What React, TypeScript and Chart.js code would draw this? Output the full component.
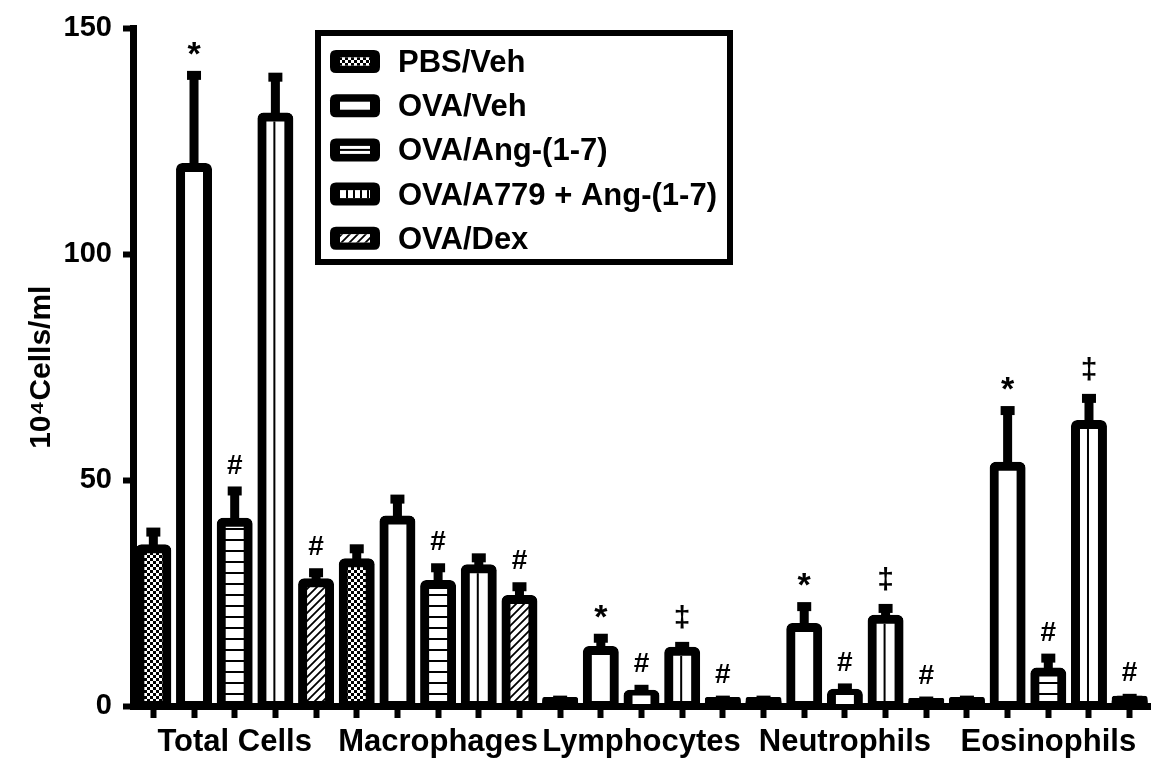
import React, { useEffect, useRef } from 'react';
import { Chart, registerables } from 'chart.js';

Chart.register(...registerables);

// ---------- data ----------
const groups = ['Total Cells', 'Macrophages', 'Lymphocytes', 'Neutrophils', 'Eosinophils'];
const seriesNames = ['PBS/Veh', 'OVA/Veh', 'OVA/Ang-(1-7)', 'OVA/A779 + Ang-(1-7)', 'OVA/Dex'];

const pbsVeh = [34.8, 31.7, 1.0, 1.0, 1.0];
const ovaVeh = [119.2, 41.2, 12.3, 17.4, 53.1];
const ovaAng = [40.7, 26.9, 2.6, 2.8, 7.5];
const ovaA779 = [130.4, 30.4, 12.1, 19.2, 62.3];
const ovaDex = [27.3, 23.6, 1.0, 0.8, 1.3];

const pbsVehErr = [3.7, 3.1, 0.3, 0.3, 0.3];
const ovaVehErr = [20.4, 4.6, 2.7, 4.6, 12.3];
const ovaAngErr = [6.9, 3.7, 1.1, 1.2, 3.1];
const ovaA779Err = [8.8, 2.4, 1.1, 2.4, 5.8];
const ovaDexErr = [2.2, 2.8, 0.3, 0.3, 0.4];

const pbsVehMark = ['', '', '', '', ''];
const ovaVehMark = ['*', '', '*', '*', '*'];
const ovaAngMark = ['#', '#', '#', '#', '#'];
const ovaA779Mark = ['', '', '‡', '‡', '‡'];
const ovaDexMark = ['#', '#', '#', '#', '#'];

const yTicks = [0, 50, 100, 150];
const yTitle = '10⁴Cells/ml';

const seriesValues = [pbsVeh, ovaVeh, ovaAng, ovaA779, ovaDex];
const seriesErrors = [pbsVehErr, ovaVehErr, ovaAngErr, ovaA779Err, ovaDexErr];
const seriesMarks = [pbsVehMark, ovaVehMark, ovaAngMark, ovaA779Mark, ovaDexMark];

const FONT = "'Liberation Sans', Arial, Helvetica, sans-serif";
const BORDER = 9;

// ---------- patterns ----------
function patternCanvas(w: number, h: number, draw: (c: CanvasRenderingContext2D) => void) {
  const cv = document.createElement('canvas');
  cv.width = w;
  cv.height = h;
  const c = cv.getContext('2d')!;
  c.fillStyle = '#fff';
  c.fillRect(0, 0, w, h);
  c.fillStyle = '#000';
  c.strokeStyle = '#000';
  draw(c);
  return cv;
}

function buildPatterns(ctx: CanvasRenderingContext2D) {
  const checker = patternCanvas(6, 6, (c) => {
    c.fillRect(0, 0, 3, 3);
    c.fillRect(3, 3, 3, 3);
  });
  const hlines = patternCanvas(4, 11, (c) => {
    c.fillRect(0, 0, 4, 2);
  });
  const diag = patternCanvas(8, 8, (c) => {
    c.lineWidth = 1.8;
    c.beginPath();
    c.moveTo(-1, 9);
    c.lineTo(9, -1);
    c.moveTo(-1, 1);
    c.lineTo(1, -1);
    c.moveTo(7, 9);
    c.lineTo(9, 7);
    c.stroke();
  });
  return [
    ctx.createPattern(checker, 'repeat'),
    '#ffffff',
    ctx.createPattern(hlines, 'repeat'),
    '#ffffff',
    ctx.createPattern(diag, 'repeat'),
  ];
}

function roundRectPath(c: CanvasRenderingContext2D, x: number, y: number, w: number, h: number, r: number) {
  c.beginPath();
  c.moveTo(x + r, y);
  c.lineTo(x + w - r, y);
  c.quadraticCurveTo(x + w, y, x + w, y + r);
  c.lineTo(x + w, y + h - r);
  c.quadraticCurveTo(x + w, y + h, x + w - r, y + h);
  c.lineTo(x + r, y + h);
  c.quadraticCurveTo(x, y + h, x, y + h - r);
  c.lineTo(x, y + r);
  c.quadraticCurveTo(x, y, x + r, y);
  c.closePath();
}

export default function App() {
  const ref = useRef<HTMLCanvasElement>(null);

  useEffect(() => {
    const canvas = ref.current!;
    const ctx = canvas.getContext('2d')!;
    const patterns = buildPatterns(ctx);

    const barLabels: string[] = [];
    const barValues: number[] = [];
    groups.forEach((g, gi) => {
      seriesNames.forEach((s, si) => {
        barLabels.push(g + ' - ' + s);
        barValues.push(seriesValues[si][gi]);
      });
    });

    const errorPlugin = {
      id: 'errorBars',
      afterDatasetsDraw(chart: any) {
        const meta = chart.getDatasetMeta(0);
        const yScale = chart.scales.y;
        const c = chart.ctx as CanvasRenderingContext2D;
        c.save();
        meta.data.forEach((el: any, i: number) => {
          const gi = Math.floor(i / 5);
          const si = i % 5;
          const v = seriesValues[si][gi];
          const e = seriesErrors[si][gi];
          const x = el.x;
          const top = el.y;
          const base = el.base;
          const w = el.width;
          c.fillStyle = '#000';
          // very short bars: the thick outline fills them completely
          if (base - top < BORDER) {
            roundRectPath(c, x - w / 2 - BORDER / 2, top - BORDER / 2, w + BORDER, base - top + BORDER, 6);
            c.fill();
          }
          // single vertical line inside A779 bars
          if (si === 3) {
            const y0 = top + BORDER / 2;
            const y1 = base - BORDER / 2;
            if (y1 > y0) c.fillRect(x - 2, y0, 2, y1 - y0);
          }
          const end = yScale.getPixelForValue(v + e);
          c.fillRect(x - 4.5, end, 9, top - end);
          c.fillRect(x - 7, end - 4.5, 14, 9);
          const mark = seriesMarks[si][gi];
          if (mark) {
            const size = mark === '*' ? 34 : mark === '#' ? 28 : 30;
            const off = mark === '*' ? 20 : mark === '#' ? 25 : 28;
            c.font = 'bold ' + size + 'px ' + FONT;
            c.textAlign = 'center';
            c.textBaseline = 'middle';
            c.fillText(mark, x, end - off);
          }
        });
        c.restore();
      },
    };

    const legendPlugin = {
      id: 'boxLegend',
      afterDraw(chart: any) {
        const c = chart.ctx as CanvasRenderingContext2D;
        c.save();
        c.lineWidth = 6;
        c.strokeStyle = '#000';
        c.strokeRect(318, 33, 412, 229);
        seriesNames.forEach((name, i) => {
          const cy = 61.5 + i * 44.2;
          c.fillStyle = '#000';
          roundRectPath(c, 330, cy - 11.5, 50, 23, 6);
          c.fill();
          const ix = 340, iy = cy - 4, iw = 30, ih = 8;
          c.fillStyle = '#fff';
          c.fillRect(ix, iy, iw, ih);
          c.fillStyle = '#000';
          if (i === 0 || i === 4) {
            c.fillStyle = patterns[i] as any;
            c.fillRect(ix, iy, iw, ih);
          } else if (i === 2) {
            c.fillRect(ix, cy - 1, iw, 2);
          } else if (i === 3) {
            for (let k = 1; k < 5; k++) c.fillRect(ix + k * 7 - 1, iy, 2, ih);
          }
          c.fillStyle = '#000';
          c.font = 'bold 31px ' + FONT;
          c.textAlign = 'left';
          c.textBaseline = 'middle';
          c.fillText(name, 398, cy + 2);
        });
        c.restore();
      },
    };

    const chart = new Chart(canvas, {
      type: 'bar',
      data: {
        labels: barLabels,
        datasets: [
          {
            data: barValues,
            backgroundColor: (c: any) => patterns[c.dataIndex % 5] as any,
            borderColor: '#000',
            borderWidth: BORDER,
            borderSkipped: false,
            borderRadius: { topLeft: 6, topRight: 6, bottomLeft: 0, bottomRight: 0 },
            inflateAmount: BORDER / 2,
            barPercentage: 0.663,
            categoryPercentage: 1,
          } as any,
        ],
      },
      options: {
        responsive: false,
        animation: false,
        events: [],
        layout: { padding: { left: 0, right: 15, top: 25, bottom: 0 } },
        plugins: {
          legend: { display: false },
          tooltip: { enabled: false },
        },
        scales: {
          y: {
            min: 0,
            max: 150,
            afterBuildTicks: (s: any) => {
              s.ticks = yTicks.map((v) => ({ value: v }));
            },
            afterFit: (s: any) => {
              s.width = 133;
            },
            ticks: {
              color: '#000',
              font: { family: FONT, size: 29, weight: 'bold' },
              padding: 11,
            },
            grid: {
              display: true,
              drawOnChartArea: false,
              drawTicks: true,
              tickLength: 10,
              tickWidth: 6,
              tickColor: '#000',
            },
            border: { display: true, width: 7, color: '#000' },
            title: {
              display: true,
              text: yTitle,
              color: '#000',
              font: { family: FONT, size: 30, weight: 'bold' },
              padding: { top: 24, bottom: 0 },
            },
          },
          x: {
            type: 'category',
            position: 'bottom',
            weight: 0,
            offset: true,
            afterFit: (s: any) => {
              s.height = 14;
            },
            ticks: { display: false },
            grid: {
              display: true,
              offset: false,
              drawOnChartArea: false,
              drawTicks: true,
              tickLength: 12,
              tickWidth: 6,
              tickColor: '#000',
            },
            border: { display: true, width: 7, color: '#000' },
          },
          x2: {
            type: 'category',
            position: 'bottom',
            weight: 1,
            labels: groups,
            offset: true,
            afterFit: (s: any) => {
              s.height = 45;
            },
            ticks: {
              color: '#000',
              font: { family: FONT, size: 31, weight: 'bold' },
              padding: 4,
              maxRotation: 0,
              autoSkip: false,
            },
            grid: { display: false, drawTicks: false },
            border: { display: false },
          },
        } as any,
      },
      plugins: [errorPlugin, legendPlugin],
    });

    return () => chart.destroy();
  }, []);

  return (
    <div style={{ position: 'absolute', left: 0, top: 0, width: 1165, height: 765, background: '#fff' }}>
      <canvas ref={ref} width={1165} height={765} style={{ display: 'block' }} />
    </div>
  );
}
